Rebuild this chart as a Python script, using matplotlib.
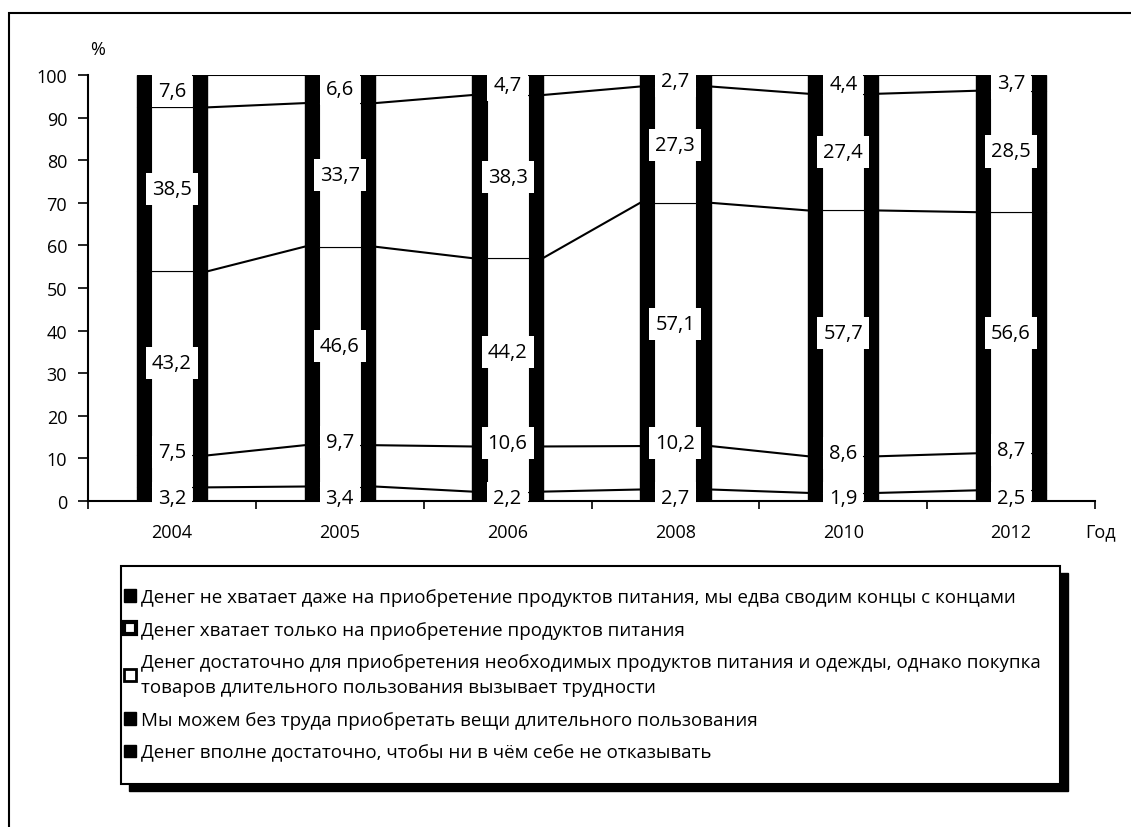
import numpy as np
import matplotlib
matplotlib.use('Agg')
import matplotlib.pyplot as plt
from matplotlib.patches import Patch, Rectangle

plt.rcParams['font.family'] = ['Open Sans', 'DejaVu Sans']

years = ['2004', '2005', '2006', '2008', '2010', '2012']
series_names = [
    'Денег не хватает даже на приобретение продуктов питания, мы едва сводим концы с концами',
    'Денег хватает только на приобретение продуктов питания',
    'Денег достаточно для приобретения необходимых продуктов питания и одежды, однако покупка\nтоваров длительного пользования вызывает трудности',
    'Мы можем без труда приобретать вещи длительного пользования',
    'Денег вполне достаточно, чтобы ни в чём себе не отказывать',
]
not_enough_food = [3.2, 3.4, 2.2, 2.7, 1.9, 2.5]
only_food = [7.5, 9.7, 10.6, 10.2, 8.6, 8.7]
food_clothes = [43.2, 46.6, 44.2, 57.1, 57.7, 56.6]
durables = [38.5, 33.7, 38.3, 27.3, 27.4, 28.5]
enough = [7.6, 6.6, 4.7, 2.7, 4.4, 3.7]

data = np.array([not_enough_food, only_food, food_clothes, durables, enough])
x = np.arange(len(years))
cum = np.cumsum(data, axis=0)
bottoms = cum - data

fig = plt.figure(figsize=(11.31, 8.28), dpi=100)
ax = fig.add_axes([88 / 1131, 1 - 502 / 828, (1095 - 88) / 1131, (502 - 76) / 828])

w_out = 0.42
w_in = 0.25
fs = 13.5

# bars: black outer strip, white inner part
for k in range(5):
    ax.bar(x, data[k], w_out, bottom=bottoms[k], color='black', edgecolor='black', lw=1, zorder=2)
    ax.bar(x, data[k], w_in, bottom=bottoms[k], color='white', edgecolor='black', lw=0.8, zorder=3)

# series lines between bars
for k in range(5):
    for i in range(len(x) - 1):
        ax.plot([x[i] + w_out / 2, x[i + 1] - w_out / 2], [cum[k, i], cum[k, i + 1]],
                color='black', lw=1.5, zorder=2)

# value labels
for k in range(5):
    for i in range(len(x)):
        if k == 0:
            yy = 0.6
        elif k == 1:
            yy = cum[k, i] + 0.8
        else:
            yy = bottoms[k, i] + data[k, i] / 2
        ax.text(x[i], yy, f'{data[k, i]:.1f}'.replace('.', ','), ha='center', va='center',
                fontsize=14.5, zorder=5,
                bbox=dict(boxstyle='square,pad=0.3', fc='white', ec='none'))

ax.set_xlim(-0.5, len(years) - 0.5)
ax.set_ylim(0, 100)
ax.set_yticks(np.arange(0, 101, 10))
ax.tick_params(axis='y', labelsize=13, length=7, width=1.2, pad=8)
ax.set_xticks(x)
ax.set_xticklabels(years)
ax.tick_params(axis='x', which='major', length=0, labelsize=13, pad=16)
ax.set_xticks(np.arange(-0.5, len(years)), minor=True)
ax.tick_params(axis='x', which='minor', length=6, width=1.2)
for s in ['top', 'right']:
    ax.spines[s].set_visible(False)
for s in ['left', 'bottom']:
    ax.spines[s].set_linewidth(1.5)

fig.text(90 / 1131, 1 - 50 / 828, '%', fontsize=13, ha='left', va='center')
fig.text(1085 / 1131, 1 - 532 / 828, 'Год', fontsize=13, ha='left', va='center')

# legend box with shadow
lx0, ly0, lx1, ly1 = 121, 567, 1060, 785
fig.patches.append(Rectangle(((lx0 + 8) / 1131, 1 - (ly1 + 7) / 828), (lx1 - lx0) / 1131,
                             (ly1 - ly0) / 828, transform=fig.transFigure,
                             fc='black', ec='black', zorder=0))
fig.patches.append(Rectangle((lx0 / 1131, 1 - ly1 / 828), (lx1 - lx0) / 1131,
                             (ly1 - ly0) / 828, transform=fig.transFigure,
                             fc='white', ec='black', lw=1.5, zorder=1))

handles = [
    Patch(fc='black', ec='black', lw=1),
    Patch(fc='white', ec='black', lw=3),
    Patch(fc='white', ec='black', lw=2),
    Patch(fc='black', ec='black', lw=1),
    Patch(fc='black', ec='black', lw=1),
]
leg = fig.legend(handles, series_names, loc='upper left', bbox_to_anchor=(124 / 1131, 1 - 589 / 828),
                 frameon=False, fontsize=fs, handlelength=0.65, handleheight=0.65,
                 handletextpad=0.25, labelspacing=0.78, borderaxespad=0, borderpad=0)
for t in leg.get_texts():
    t.set_linespacing(1.5)

# outer frame of the figure
fig.patches.append(Rectangle((9 / 1131, -0.1), 1.2, 1 - 14 / 828 + 0.1,
                             transform=fig.transFigure, fill=False, ec='black', lw=1.5))

plt.savefig('out.png', dpi=100)
